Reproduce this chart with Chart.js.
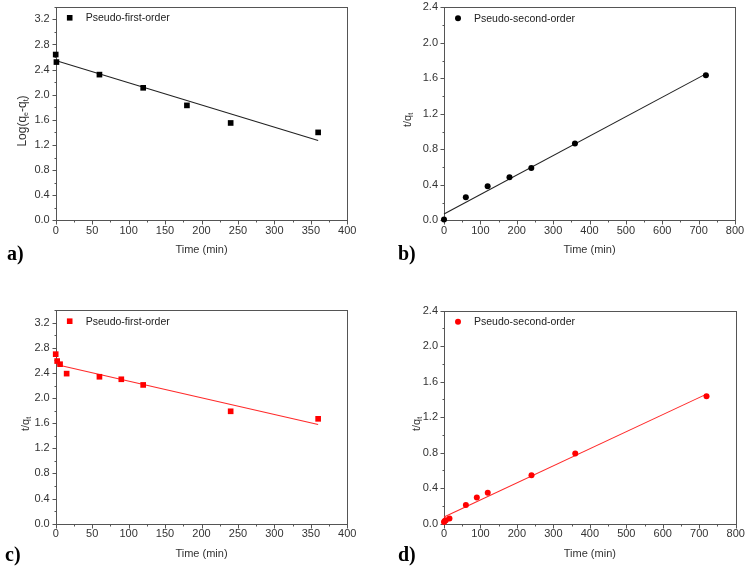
<!DOCTYPE html>
<html>
<head>
<meta charset="utf-8">
<script src="https://cdn.jsdelivr.net/npm/chart.js@4/dist/chart.umd.min.js"></script>
<style>
  body { margin: 0; background: #fff; }
  #wrap { position: relative; width: 749px; height: 571px; overflow: hidden; font-family: "Liberation Sans", Arial, sans-serif; }
  canvas { position: absolute; }
  .ytitle { position: absolute; transform: translate(-50%, -50%) rotate(-90deg); white-space: nowrap; font-size: 11px; color: #333; }
  .ytitle sub { font-size: 7px; vertical-align: -2px; }
  .plabel { position: absolute; font-family: "Liberation Serif", "DejaVu Serif", serif; font-weight: bold; font-size: 20px; line-height: 20px; color: #000; }
</style>
</head>
<body>
<div id="wrap">
  <canvas id="chartA" width="375" height="285" style="left:0;top:0"></canvas>
  <canvas id="chartB" width="374" height="285" style="left:375px;top:0"></canvas>
  <canvas id="chartC" width="375" height="286" style="left:0;top:285px"></canvas>
  <canvas id="chartD" width="374" height="286" style="left:375px;top:285px"></canvas>

  <div class="ytitle" style="left:22px;top:121px;font-size:12px">Log(q<sub>e</sub>-q<sub>t</sub>)</div>
  <div class="ytitle" style="left:407px;top:120px">t/q<sub>t</sub></div>
  <div class="ytitle" style="left:25px;top:424px">t/q<sub>t</sub></div>
  <div class="ytitle" style="left:416px;top:424px">t/q<sub>t</sub></div>

  <div class="plabel" style="left:7px;top:243px">a)</div>
  <div class="plabel" style="left:398px;top:243px">b)</div>
  <div class="plabel" style="left:5px;top:544px">c)</div>
  <div class="plabel" style="left:398px;top:544px">d)</div>
</div>

<script>
// a) pseudo-first-order, black
const timeA = [0, 1, 60, 120, 180, 240, 360];
const logQA = [2.64, 2.52, 2.32, 2.11, 1.83, 1.55, 1.40];
const fitTimeA = [1, 360];
const fitA = [2.54, 1.27];

// b) pseudo-second-order, black
const timeB = [0, 60, 120, 180, 240, 360, 720];
const tqB = [0.01, 0.26, 0.385, 0.485, 0.59, 0.865, 1.635];
const fitTimeB = [0, 720];
const fitB = [0.07, 1.65];

// c) pseudo-first-order, red
const timeC = [0, 2, 6, 15, 60, 90, 120, 240, 360];
const tqC = [2.70, 2.59, 2.54, 2.39, 2.34, 2.30, 2.21, 1.79, 1.67];
const fitTimeC = [2, 360];
const fitC = [2.53, 1.58];

// d) pseudo-second-order, red
const timeD = [0, 2, 5, 15, 60, 90, 120, 240, 360, 720];
const tqD = [0.02, 0.03, 0.04, 0.06, 0.21, 0.295, 0.35, 0.545, 0.79, 1.435];
const fitTimeD = [0, 720];
const fitD = [0.075, 1.46];

Chart.defaults.font.family = '"Liberation Sans", Arial, sans-serif';
Chart.defaults.color = '#333';

// box frame + outward major/minor ticks
const frameTicks = {
    id: 'frameTicks',
    beforeDatasetsDraw(chart, args, opts) {
        const { ctx, chartArea: a, scales: { x, y } } = chart;
        const l = Math.round(a.left) + 0.5, r = Math.round(a.right) + 0.5;
        const t = Math.round(a.top) + 0.5, b = Math.round(a.bottom) + 0.5;
        ctx.save();
        ctx.strokeStyle = '#555';
        ctx.lineWidth = 1;
        ctx.strokeRect(l, t, r - l, b - t);
        ctx.beginPath();
        const isMajor = (v, step) => Math.abs(v / step - Math.round(v / step)) < 1e-6;
        for (let v = x.min; v <= x.max + 1e-9; v += opts.xStep / 2) {
            const px = Math.round(x.getPixelForValue(v)) + 0.5;
            ctx.moveTo(px, b);
            ctx.lineTo(px, b + (isMajor(v, opts.xStep) ? 4 : 2));
        }
        for (let v = y.min; v <= y.max + 1e-9; v += opts.yStep / 2) {
            const py = Math.round(y.getPixelForValue(v)) + 0.5;
            ctx.moveTo(l, py);
            ctx.lineTo(l - (isMajor(v, opts.yStep) ? 4 : 2), py);
        }
        ctx.stroke();
        ctx.restore();
    },
    afterDatasetsDraw(chart) {
        // legend inside the plot, first dataset only
        const { ctx, chartArea: a } = chart;
        const ds = chart.data.datasets[0];
        const mx = a.left + 14, my = a.top + 11;
        ctx.save();
        ctx.fillStyle = ds.pointBackgroundColor;
        if (ds.pointStyle === 'rect') {
            ctx.fillRect(mx - 2.8, my - 2.8, 5.6, 5.6);
        } else {
            ctx.beginPath();
            ctx.arc(mx, my, 3, 0, Math.PI * 2);
            ctx.fill();
        }
        ctx.fillStyle = '#222';
        ctx.font = '10.5px "Liberation Sans", Arial, sans-serif';
        ctx.textBaseline = 'middle';
        ctx.fillText(ds.label, a.left + 30, my + 0.5);
        ctx.restore();
    }
};

function makePanel(id, p) {
    return new Chart(document.getElementById(id), {
        type: 'scatter',
        data: {
            datasets: [{
                label: p.label,
                data: p.xs.map((x, i) => ({ x: x, y: p.ys[i] })),
                pointStyle: p.style,
                pointRadius: p.style === 'rect' ? 4 : 3,
                pointBackgroundColor: p.color,
                pointBorderWidth: 0,
                clip: false
            }, {
                label: 'fit',
                data: p.fitX.map((x, i) => ({ x: x, y: p.fitY[i] })),
                showLine: true,
                pointRadius: 0,
                borderColor: p.lineColor,
                borderWidth: 1.1,
                clip: false
            }]
        },
        options: {
            responsive: false,
            animation: false,
            events: [],
            layout: { padding: { left: 0, top: p.top, right: p.right, bottom: p.bottom } },
            plugins: {
                legend: { display: false },
                tooltip: { enabled: false },
                frameTicks: { xStep: p.xStep, yStep: p.yStep }
            },
            scales: {
                x: {
                    type: 'linear',
                    min: 0,
                    max: p.xMax,
                    grid: { display: false, drawTicks: false },
                    border: { display: false },
                    ticks: { stepSize: p.xStep, padding: 4, includeBounds: false, autoSkip: false, maxRotation: 0, font: { size: 11 } },
                    title: { display: true, text: 'Time (min)', font: { size: 11 }, padding: 0 },
                    afterFit: s => { s.height = p.xAxisH; s.paddingLeft = 0; s.paddingRight = 0; }
                },
                y: {
                    type: 'linear',
                    min: 0,
                    max: p.yMax,
                    grid: { display: false, drawTicks: false },
                    border: { display: false },
                    ticks: { stepSize: p.yStep, padding: 6, includeBounds: false, autoSkip: false, font: { size: 11 },
                        callback: v => v.toFixed(1) },
                    afterFit: s => { s.width = p.left; s.paddingTop = 0; s.paddingBottom = 0; }
                }
            }
        },
        plugins: [frameTicks]
    });
}

makePanel('chartA', {
    label: 'Pseudo-first-order', xs: timeA, ys: logQA, fitX: fitTimeA, fitY: fitA,
    style: 'rect', color: '#000', lineColor: '#222',
    xMax: 400, xStep: 50, yMax: 3.4, yStep: 0.4,
    left: 55.7, top: 6.8, right: 27.7, bottom: 28.9, xAxisH: 35.8
});
makePanel('chartB', {
    label: 'Pseudo-second-order', xs: timeB, ys: tqB, fitX: fitTimeB, fitY: fitB,
    style: 'circle', color: '#000', lineColor: '#222',
    xMax: 800, xStep: 100, yMax: 2.4, yStep: 0.4,
    left: 69, top: 7.3, right: 14, bottom: 28.9, xAxisH: 35.8
});
makePanel('chartC', {
    label: 'Pseudo-first-order', xs: timeC, ys: tqC, fitX: fitTimeC, fitY: fitC,
    style: 'rect', color: '#ff0000', lineColor: '#ff2a2a',
    xMax: 400, xStep: 50, yMax: 3.4, yStep: 0.4,
    left: 55.7, top: 25.2, right: 27.7, bottom: 10.7, xAxisH: 36.6
});
makePanel('chartD', {
    label: 'Pseudo-second-order', xs: timeD, ys: tqD, fitX: fitTimeD, fitY: fitD,
    style: 'circle', color: '#ff0000', lineColor: '#ff2a2a',
    xMax: 800, xStep: 100, yMax: 2.4, yStep: 0.4,
    left: 69, top: 25.7, right: 13.3, bottom: 10.7, xAxisH: 36.6
});
</script>
</body>
</html>
